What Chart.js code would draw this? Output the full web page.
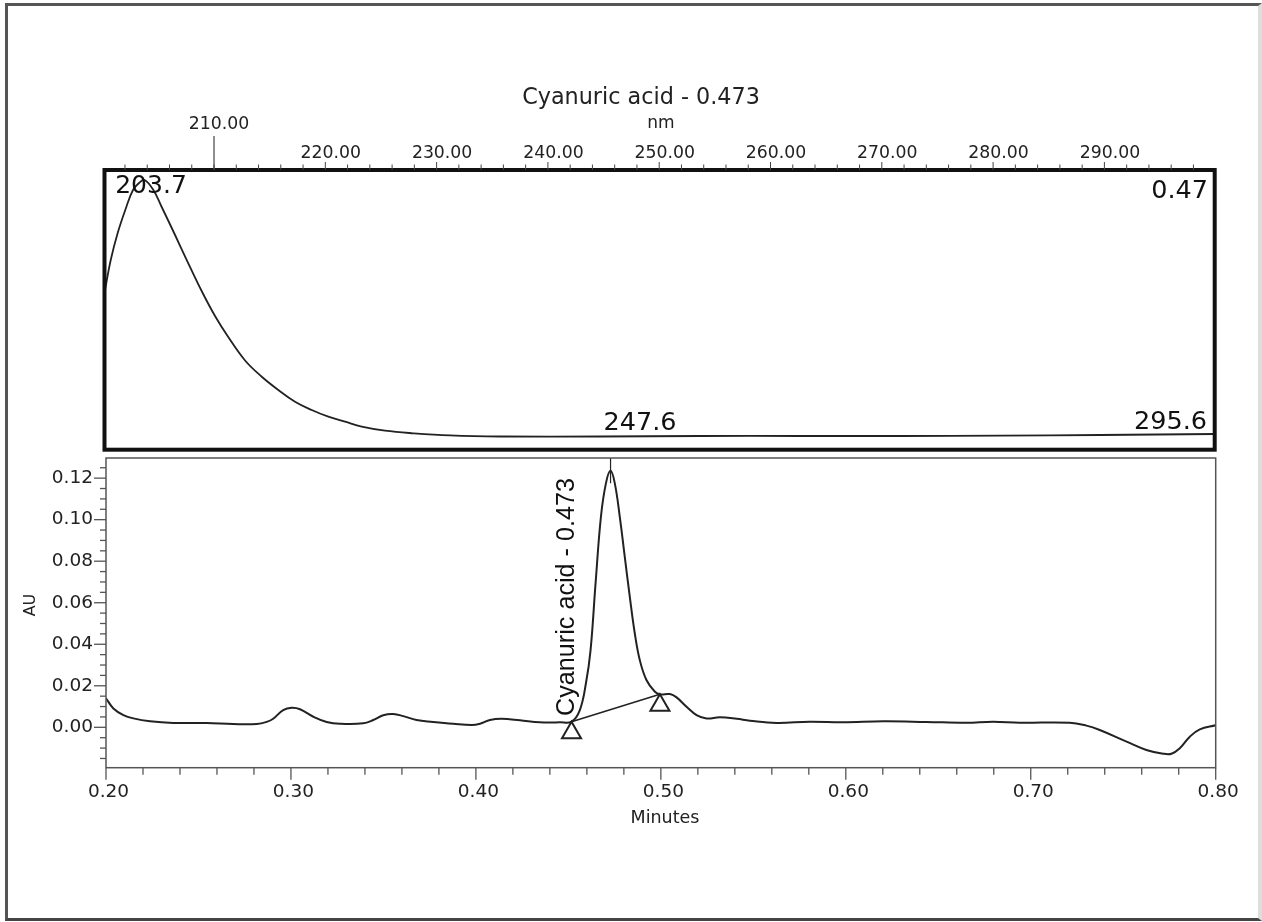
<!DOCTYPE html>
<html>
<head>
<meta charset="utf-8">
<title>Cyanuric acid - 0.473</title>
<script src="https://cdn.jsdelivr.net/npm/chart.js@4"></script>
<style>
    html, body { margin: 0; padding: 0; background: #fff; }
    #page { position: relative; width: 1262px; height: 922px; overflow: hidden; background: #fff; }
    #edge { position: absolute; left: 5px; top: 3px; width: 1250px; height: 912px;
            border-top: 3px solid #555; border-left: 3px solid #555; border-bottom: 3px solid #444; border-right: 4px solid #ddd; }
    canvas { position: absolute; left: 0; }
    #spectrum { top: 0; }
    #chromatogram { top: 445px; }
</style>
</head>
<body>
<div id="page">
    <div id="edge"></div>
    <canvas id="spectrum" width="1262" height="460"></canvas>
    <canvas id="chromatogram" width="1262" height="405"></canvas>
</div>
<script>
// UV spectrum (top panel)
const specNm = [200.16, 200.72, 201.37, 202.09, 202.72, 203.26, 203.75, 204.55, 205.30, 206.50, 207.55, 208.89, 210.09,
    211.28, 212.79, 214.29, 215.78, 217.28, 218.78, 220.27, 221.77, 223.27, 225.36, 227.88, 231.20, 235.70,
    244.68, 253.67, 262.65, 271.64, 280.62, 289.60, 299.91];
const specAU = [0.2731, 0.3306, 0.3794, 0.4213, 0.4527, 0.4649, 0.4701, 0.4527, 0.4230, 0.3742, 0.3306, 0.2766, 0.2330,
    0.1964, 0.1555, 0.1272, 0.1041, 0.0837, 0.0692, 0.0575, 0.0488, 0.0401, 0.0331, 0.0286, 0.0248, 0.0230,
    0.0230, 0.0239, 0.0239, 0.0239, 0.0246, 0.0256, 0.0274];

// chromatogram (bottom panel)
const chromTime = [0.2000, 0.2040, 0.2094, 0.2148, 0.2238, 0.2364, 0.2544, 0.2687, 0.2815, 0.2869, 0.2904, 0.2958,
    0.3004, 0.3049, 0.3121, 0.3193, 0.3265, 0.3391, 0.3445, 0.3499, 0.3553, 0.3607, 0.3679, 0.3769, 0.3877, 0.3977,
    0.4022, 0.4076, 0.4139, 0.4238, 0.4346, 0.4454, 0.4517, 0.4562, 0.4595, 0.4620, 0.4647, 0.4676, 0.4703,
    0.4728, 0.4751, 0.4778, 0.4805, 0.4832, 0.4859, 0.4886, 0.4922, 0.4968, 0.4995, 0.5049, 0.5085, 0.5139, 0.5193,
    0.5247, 0.5319, 0.5410, 0.5481, 0.5625, 0.5805, 0.5985, 0.6202, 0.6436, 0.6652, 0.6796, 0.6941, 0.7211, 0.7301,
    0.7373, 0.7518, 0.7625, 0.7716, 0.7761, 0.7806, 0.7860, 0.7914, 0.8000];
const chromAU = [0.0140, 0.0091, 0.0059, 0.0043, 0.0029, 0.0021, 0.0021, 0.0016, 0.0016, 0.0026, 0.0041, 0.0083,
    0.0094, 0.0087, 0.0051, 0.0026, 0.0017, 0.0019, 0.0035, 0.0058, 0.0064, 0.0054, 0.0035, 0.0026, 0.0017, 0.0011,
    0.0017, 0.0035, 0.0041, 0.0034, 0.0024, 0.0024, 0.0027, 0.0083, 0.0212, 0.0372, 0.0693, 0.1014, 0.1175,
    0.1235, 0.1175, 0.1014, 0.0821, 0.0629, 0.0453, 0.0324, 0.0228, 0.0171, 0.0159, 0.0160, 0.0144, 0.0099, 0.0059,
    0.0043, 0.0048, 0.0041, 0.0032, 0.0021, 0.0027, 0.0024, 0.0029, 0.0026, 0.0022, 0.0027, 0.0022, 0.0022, 0.0008,
    -0.0013, -0.0069, -0.0109, -0.0127, -0.0127, -0.0101, -0.0045, -0.0010, 0.0010];

// integration baseline, its start/end triangles and the apex marker
const baselineTime = [0.4517, 0.4995];
const baselineAU = [0.0027, 0.0159];
const triangleAU = [-0.0026, 0.0106];
const apexTime = [0.4728, 0.4728];
const apexAU = [0.1297, 0.1175];

// axis ticks
const nmTicks = [202, 204, 206, 208, 210, 212, 214, 216, 218, 220, 222, 224, 226, 228, 230, 232, 234, 236, 238, 240,
    242, 244, 246, 248, 250, 252, 254, 256, 258, 260, 262, 264, 266, 268, 270, 272, 274, 276, 278, 280, 282, 284,
    286, 288, 290, 292, 294, 296, 298];
const nmLabels = [220, 230, 240, 250, 260, 270, 280, 290];
const cursorNm = 210;
const timeTicks = [0.20, 0.22, 0.24, 0.26, 0.28, 0.30, 0.32, 0.34, 0.36, 0.38, 0.40, 0.42, 0.44, 0.46, 0.48, 0.50,
    0.52, 0.54, 0.56, 0.58, 0.60, 0.62, 0.64, 0.66, 0.68, 0.70, 0.72, 0.74, 0.76, 0.78, 0.80];
const timeLabels = [0.20, 0.30, 0.40, 0.50, 0.60, 0.70, 0.80];
const auTicks = [-0.015, -0.010, -0.005, 0.000, 0.005, 0.010, 0.015, 0.020, 0.025, 0.030, 0.035, 0.040, 0.045, 0.050,
    0.055, 0.060, 0.065, 0.070, 0.075, 0.080, 0.085, 0.090, 0.095, 0.100, 0.105, 0.110, 0.115, 0.120, 0.125];
const auLabels = [0.00, 0.02, 0.04, 0.06, 0.08, 0.10, 0.12];

const INK = '#222';
const AXIS = '#555';
const TICK_FONT = '"DejaVu Sans", sans-serif';

Chart.defaults.animation = false;
Chart.defaults.responsive = false;
Chart.defaults.devicePixelRatio = 1;
Chart.defaults.plugins.legend.display = false;
Chart.defaults.plugins.tooltip.enabled = false;

const toPoints = (xs, ys) => xs.map((x, i) => ({ x: x, y: ys[i] }));

function putText(ctx, text, x, y, font, align, color, rotate) {
    ctx.save();
    ctx.translate(x, y);
    if (rotate) ctx.rotate(rotate);
    ctx.font = font;
    ctx.fillStyle = color || INK;
    ctx.textAlign = align || 'center';
    ctx.textBaseline = 'middle';
    ctx.fillText(text, 0, 0);
    ctx.restore();
}

function vTick(ctx, x, y0, y1, width) {
    ctx.lineWidth = width;
    ctx.beginPath();
    ctx.moveTo(x, y0);
    ctx.lineTo(x, y1);
    ctx.stroke();
}

// top panel: thick frame, small ticks, cursor at 210 and the peak labels
const spectrumDecor = {
    id: 'spectrumDecor',
    afterDraw(chart) {
        const { ctx, chartArea: a, scales: { x } } = chart;
        ctx.save();
        ctx.strokeStyle = '#111';
        ctx.lineWidth = 4;
        ctx.strokeRect(a.left, a.top, a.right - a.left, a.bottom - a.top);
        ctx.strokeStyle = '#444';
        x.ticks.forEach(t => {
            const px = x.getPixelForValue(t.value);
            vTick(ctx, px, a.top, a.top - (nmLabels.includes(t.value) ? 8 : 5.5), 1);
        });
        const cx = x.getPixelForValue(cursorNm);
        vTick(ctx, cx, a.top, 136, 1.2);
        ctx.restore();
        putText(ctx, cursorNm.toFixed(2), cx + 5, 125, '17.3px ' + TICK_FONT);
        putText(ctx, 'Cyanuric acid - 0.473', 641, 98, '22.3px ' + TICK_FONT);
        putText(ctx, 'nm', 661, 124, '17px ' + TICK_FONT);
        putText(ctx, '203.7', 151, 186, '25px ' + TICK_FONT, 'center', '#111');
        putText(ctx, '0.47', 1208, 191, '25.5px ' + TICK_FONT, 'right', '#111');
        putText(ctx, '247.6', 640, 423, '25.5px ' + TICK_FONT, 'center', '#111');
        putText(ctx, '295.6', 1207, 422, '25.5px ' + TICK_FONT, 'right', '#111');
    }
};

// bottom panel: thin frame, major/minor ticks, axis names and rotated peak name
const chromDecor = {
    id: 'chromDecor',
    afterDraw(chart) {
        const { ctx, chartArea: a, scales: { x, y } } = chart;
        ctx.save();
        ctx.strokeStyle = AXIS;
        ctx.lineWidth = 1.5;
        ctx.strokeRect(a.left, a.top, a.right - a.left, a.bottom - a.top);
        x.ticks.forEach(t => {
            const px = x.getPixelForValue(t.value);
            vTick(ctx, px, a.bottom, a.bottom + (timeLabels.includes(t.value) ? 12 : 7), 1.3);
        });
        ctx.lineWidth = 1.3;
        y.ticks.forEach(t => {
            const py = y.getPixelForValue(t.value);
            ctx.beginPath();
            ctx.moveTo(a.left, py);
            ctx.lineTo(a.left - (auLabels.includes(t.value) ? 12 : 6), py);
            ctx.stroke();
        });
        ctx.restore();
        putText(ctx, 'AU', 31, 160, '16px ' + TICK_FONT, 'center', INK, -Math.PI / 2);
        putText(ctx, 'Minutes', 665, 373, '17.5px ' + TICK_FONT);
        putText(ctx, 'Cyanuric acid - 0.473', 567, 152, '25.2px "Liberation Sans", sans-serif', 'center', '#111', -Math.PI / 2);
    }
};

new Chart(document.getElementById('spectrum'), {
    type: 'line',
    data: {
        datasets: [{
            data: toPoints(specNm, specAU),
            borderColor: INK,
            borderWidth: 1.8,
            pointRadius: 0,
            tension: 0.4
        }]
    },
    options: {
        parsing: false,
        layout: { padding: { left: 104.5, right: 47.3, top: 0, bottom: 10.3 } },
        scales: {
            x: {
                type: 'linear',
                position: 'top',
                min: 200.16,
                max: 299.91,
                afterBuildTicks: scale => { scale.ticks = nmTicks.map(v => ({ value: v })); },
                afterFit: scale => { scale.height = 170; },
                grid: { display: false, drawTicks: false },
                border: { display: false },
                ticks: {
                    autoSkip: false,
                    maxRotation: 0,
                    padding: 6,
                    labelOffset: 5.5,
                    color: INK,
                    font: { family: TICK_FONT, size: 17.3 },
                    callback: value => nmLabels.includes(value) ? value.toFixed(2) : ''
                }
            },
            y: {
                display: false,
                min: 0,
                max: 0.4875
            }
        }
    },
    plugins: [spectrumDecor]
});

new Chart(document.getElementById('chromatogram'), {
    type: 'line',
    data: {
        datasets: [
            {
                data: toPoints(chromTime, chromAU),
                borderColor: INK,
                borderWidth: 2,
                pointRadius: 0,
                tension: 0.4
            },
            {
                data: toPoints(baselineTime, baselineAU),
                borderColor: INK,
                borderWidth: 1.6,
                pointRadius: 0
            },
            {
                data: toPoints(baselineTime, triangleAU),
                showLine: false,
                pointStyle: 'triangle',
                pointRadius: 11,
                pointBorderWidth: 2,
                pointBorderColor: INK,
                pointBackgroundColor: 'transparent'
            },
            {
                data: toPoints(apexTime, apexAU),
                borderColor: INK,
                borderWidth: 1.2,
                pointRadius: 0
            }
        ]
    },
    options: {
        parsing: false,
        layout: { padding: { left: 0, right: 46.3, top: 8, bottom: 0 } },
        scales: {
            x: {
                type: 'linear',
                min: 0.2,
                max: 0.8,
                afterBuildTicks: scale => { scale.ticks = timeTicks.map(v => ({ value: v })); },
                afterFit: scale => { scale.height = 82.3; },
                grid: { display: false, drawTicks: false },
                border: { display: false },
                ticks: {
                    autoSkip: false,
                    maxRotation: 0,
                    padding: 13,
                    labelOffset: 2.5,
                    color: INK,
                    font: { family: TICK_FONT, size: 18.5 },
                    callback: value => timeLabels.includes(value) ? value.toFixed(2) : ''
                }
            },
            y: {
                min: -0.01945,
                max: 0.1297,
                afterBuildTicks: scale => { scale.ticks = auTicks.map(v => ({ value: v })); },
                afterFit: scale => { scale.width = 106; scale.paddingTop = 0; scale.paddingBottom = 0; },
                grid: { display: false, drawTicks: false },
                border: { display: false },
                ticks: {
                    autoSkip: false,
                    padding: 13,
                    color: INK,
                    font: { family: TICK_FONT, size: 18.5 },
                    callback: value => auLabels.includes(value) ? value.toFixed(2) : ''
                }
            }
        }
    },
    plugins: [chromDecor]
});
</script>
</body>
</html>
